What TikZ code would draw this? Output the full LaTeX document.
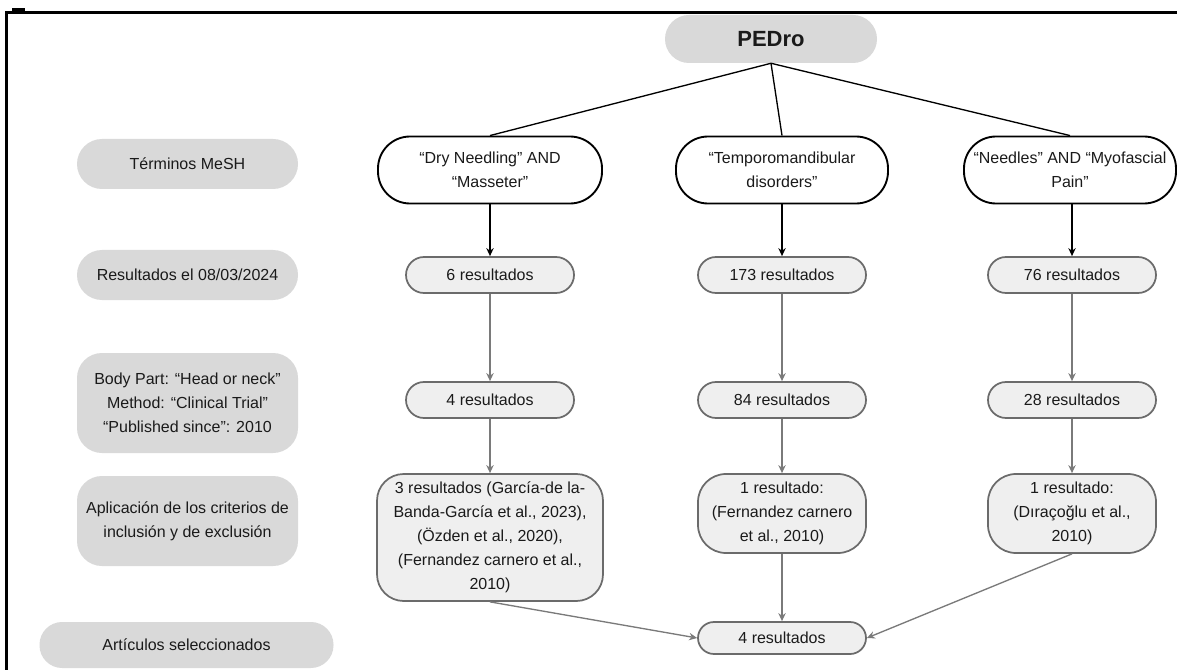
\documentclass[tikz,border=0pt]{standalone}
\usepackage{fontspec}
\setmainfont{Liberation Sans}
\usetikzlibrary{arrows.meta}
\definecolor{catgray}{HTML}{D9D9D9}
\definecolor{resfill}{HTML}{EFEFEF}
\definecolor{resdraw}{HTML}{6B6B6B}
\definecolor{arrgray}{HTML}{7A7A7A}
\definecolor{txt}{HTML}{1A1A1A}
\begin{document}
\begin{tikzpicture}[x=0.75pt,y=-0.75pt,
  font=\fontsize{12pt}{18pt}\selectfont,
  every node/.style={text=txt, align=center, inner sep=0pt},
  cat/.style={fill=catgray, rounded corners=18.75pt, minimum width=165.75pt},
  termbox/.style={draw=black, fill=white, line width=1.4pt, rounded corners=24pt, minimum height=50.25pt},
  resbox/.style={draw=resdraw, fill=resfill, line width=1.3pt, minimum width=126pt},
  blk/.style={draw=black, line width=1pt, -{Stealth[length=6pt,width=5.5pt]}},
  gry/.style={draw=arrgray, line width=1pt, -{Stealth[length=6pt,width=5.5pt]}},
  ln/.style={draw=black, line width=1pt}]
\useasboundingbox (0,0) rectangle (1177,670);
\fill[white] (0,0) rectangle (1177,670);
% frame
\draw[line width=2.25pt] (6.5,670) -- (6.5,12.5) -- (1177,12.5);
\fill (12,8.5) rectangle (25,12);
% PEDro
\node[fill=catgray, rounded corners=18pt, minimum width=159pt, minimum height=36pt,
  font=\fontsize{16.5pt}{20pt}\selectfont\bfseries] (pedro) at (771,39) {PEDro};
% left categories
\node[cat, minimum height=37.5pt] (c1) at (187.5,164) {Términos MeSH};
\node[cat, minimum height=37.5pt] (c2) at (187.5,275) {Resultados el 08/03/2024};
\node[cat, minimum height=75pt] (c3) at (187.5,403) {Body Part: “Head or neck”\\Method: “Clinical Trial”\\“Published since”: 2010};
\node[cat, minimum height=67.5pt] (c4) at (187.5,521) {Aplicación de los criterios de\\inclusión y de exclusión};
\node[cat, minimum width=220.5pt, minimum height=34.5pt, rounded corners=17pt] (c5) at (186.5,645) {Artículos seleccionados};
% search terms
\node[termbox, minimum width=168pt] (t1) at (490,170) {“Dry Needling” AND\\“Masseter”};
\node[termbox, minimum width=159pt] (t2) at (782,170) {“Temporomandibular\\disorders”};
\node[termbox, minimum width=159pt] (t3) at (1070,170) {“Needles” AND “Myofascial\\Pain”};
% row 2
\node[resbox, minimum height=27pt, rounded corners=13.5pt] (a1) at (490,275) {6 resultados};
\node[resbox, minimum height=27pt, rounded corners=13.5pt] (a2) at (782,275) {173 resultados};
\node[resbox, minimum height=27pt, rounded corners=13.5pt] (a3) at (1072,275) {76 resultados};
% row 3
\node[resbox, minimum height=27pt, rounded corners=13.5pt] (b1) at (490,400) {4 resultados};
\node[resbox, minimum height=27pt, rounded corners=13.5pt] (b2) at (782,400) {84 resultados};
\node[resbox, minimum height=27pt, rounded corners=13.5pt] (b3) at (1072,400) {28 resultados};
% row 4
\node[resbox, minimum width=169.5pt, minimum height=95.25pt, rounded corners=20pt] (d1) at (490,537.5) {3 resultados (García-de la-\\Banda-García et al., 2023),\\(Özden et al., 2020),\\(Fernandez carnero et al.,\\2010)};
\node[resbox, minimum height=59.25pt, rounded corners=21pt] (d2) at (782,513.5) {1 resultado:\\(Fernandez carnero\\et al., 2010)};
\node[resbox, minimum height=59.25pt, rounded corners=21pt] (d3) at (1072,513.5) {1 resultado:\\(Dıraçoğlu et al.,\\2010)};
% final
\node[resbox, minimum height=24pt, rounded corners=12pt] (f) at (782,638) {4 resultados};
% connectors
\draw[ln] (pedro.south) -- (t1.north);
\draw[ln] (pedro.south) -- (t2.north);
\draw[ln] (pedro.south) -- (t3.north);
\draw[blk] (t1.south) -- (a1.north);
\draw[blk] (t2.south) -- (a2.north);
\draw[blk] (a3.north |- t3.south) -- (a3.north);
\draw[gry] (a1) -- (b1);
\draw[gry] (a2) -- (b2);
\draw[gry] (a3) -- (b3);
\draw[gry] (b1) -- (d1);
\draw[gry] (b2) -- (d2);
\draw[gry] (b3) -- (d3);
\draw[gry] (d1.south) -- (f.west);
\draw[gry] (d2) -- (f);
\draw[gry] (d3.south) -- (f.east);
\end{tikzpicture}
\end{document}
